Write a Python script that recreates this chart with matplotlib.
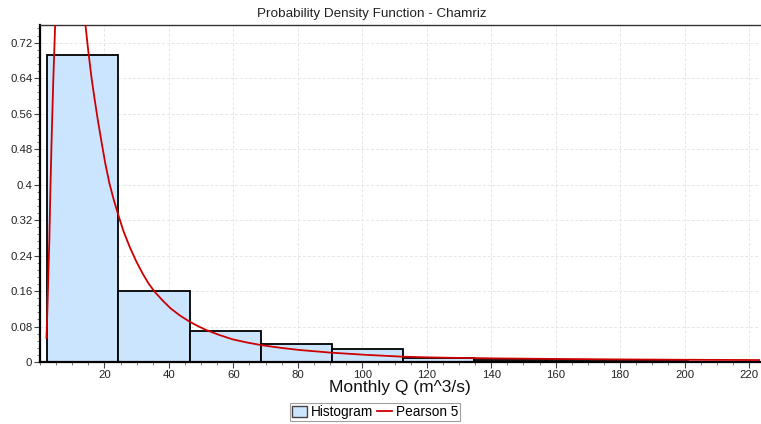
import matplotlib
matplotlib.use("Agg")
import matplotlib.pyplot as plt
from matplotlib.ticker import MultipleLocator, FixedLocator, FuncFormatter
from matplotlib.patches import Patch
from matplotlib.lines import Line2D

plt.rcParams['font.family'] = ['Liberation Sans', 'DejaVu Sans']

# Histogram (10 equal bins)
bin_edges = [2.2, 24.3, 46.4, 68.5, 90.6, 112.7, 134.8, 156.9, 179.0, 201.1, 223.2]
bin_density = [0.692, 0.160, 0.0710, 0.0415, 0.0300, 0.0090, 0.0055, 0.0040, 0.0012, 0.0008]

# Pearson 5 fitted curve
curve_x = [2.0, 2.3, 2.6, 2.9, 3.2, 3.6, 4.1, 4.7, 5.5, 6.5, 7.5, 8.5, 9.5, 10.5, 11.5,
           12.5, 13.3, 14.1, 15.0, 16.0, 17.0, 18.0, 19.0, 20.2, 21.5, 22.8, 24.1,
           25.9, 27.8, 29.8, 31.8, 33.6, 35.5, 38.0, 40.5, 43.4, 46.4, 49.0, 51.6,
           55.6, 59.8, 64.2, 68.7, 74.6, 80.6, 85.5, 90.4, 101.5, 112.5, 120.0,
           127.0, 142.7, 161.3, 180.0, 200.0, 223.2]
curve_y = [0.054, 0.12, 0.20, 0.275, 0.38, 0.50, 0.63, 0.76, 0.88, 0.96, 1.00, 1.01, 0.99,
           0.96, 0.91, 0.85, 0.80, 0.76, 0.70, 0.64, 0.590, 0.543, 0.500, 0.450,
           0.404, 0.368, 0.336, 0.295, 0.260, 0.228, 0.200, 0.178, 0.159, 0.139,
           0.121, 0.105, 0.091, 0.081, 0.072, 0.061, 0.051, 0.044, 0.038, 0.032,
           0.027, 0.024, 0.021, 0.016, 0.012, 0.0105, 0.0095, 0.0080, 0.0068,
           0.0058, 0.0050, 0.0044]

y_ticks = [0, 0.08, 0.16, 0.24, 0.32, 0.40, 0.48, 0.56, 0.64, 0.72]
x_ticks = [20, 40, 60, 80, 100, 120, 140, 160, 180, 200, 220]

fig = plt.figure(figsize=(7.61, 4.24), dpi=100)
ax = fig.add_axes([40/761, 1-362/424, 720/761, (362-24.7)/424])

widths = [bin_edges[i+1]-bin_edges[i] for i in range(len(bin_density))]
ax.bar(bin_edges[:-1], bin_density, width=widths, align='edge',
       color='#cce5ff', edgecolor='black', linewidth=1.3, zorder=2)
ax.plot(curve_x, curve_y, color='#cc0000', linewidth=1.3, zorder=3)

ax.set_xlim(0, 223.4)
ax.set_ylim(0, 0.7605)
ax.xaxis.set_major_locator(FixedLocator(x_ticks))
ax.xaxis.set_minor_locator(MultipleLocator(5))
ax.yaxis.set_major_locator(FixedLocator(y_ticks))
ax.yaxis.set_minor_locator(MultipleLocator(0.016))
ax.yaxis.set_major_formatter(FuncFormatter(lambda v, p: '%g' % round(v, 2)))
ax.tick_params(axis='both', which='major', labelsize=8.2, length=4, width=0.8,
               color='#444444', labelcolor='#222222', pad=1.5)
ax.tick_params(axis='both', which='minor', length=2, width=0.6, color='#666666')

ax.grid(True, which='major', color='#e6e6e6', linestyle=(0, (3, 2)), linewidth=0.7, zorder=0)
ax.set_axisbelow(True)

ax.spines['left'].set_linewidth(1.6)
ax.spines['bottom'].set_linewidth(1.6)
ax.spines['top'].set_linewidth(1.0)
ax.spines['top'].set_color('#333333')
ax.spines['right'].set_visible(False)

ax.set_xlabel('Monthly Q (m^3/s)', fontsize=12.5, labelpad=0, color='#111111')
fig.text(372/761, 1-14.5/424, 'Probability Density Function - Chamriz',
         ha='center', va='center', fontsize=9.7, color='#222222')

handles = [Patch(facecolor='#cce5ff', edgecolor='#444444', linewidth=1.0),
           Line2D([0], [0], color='#cc0000', linewidth=1.3)]
leg = fig.legend(handles, ['Histogram', 'Pearson 5'], loc='center',
                 bbox_to_anchor=(375/761, 1-412/424), ncol=2, fontsize=9.8,
                 frameon=True, fancybox=False, edgecolor='#888888',
                 handlelength=1.1, handleheight=0.9, handletextpad=0.3,
                 columnspacing=0.3, borderpad=0.15, borderaxespad=0)
leg.get_frame().set_linewidth(0.8)

fig.savefig('out.png', dpi=100)
